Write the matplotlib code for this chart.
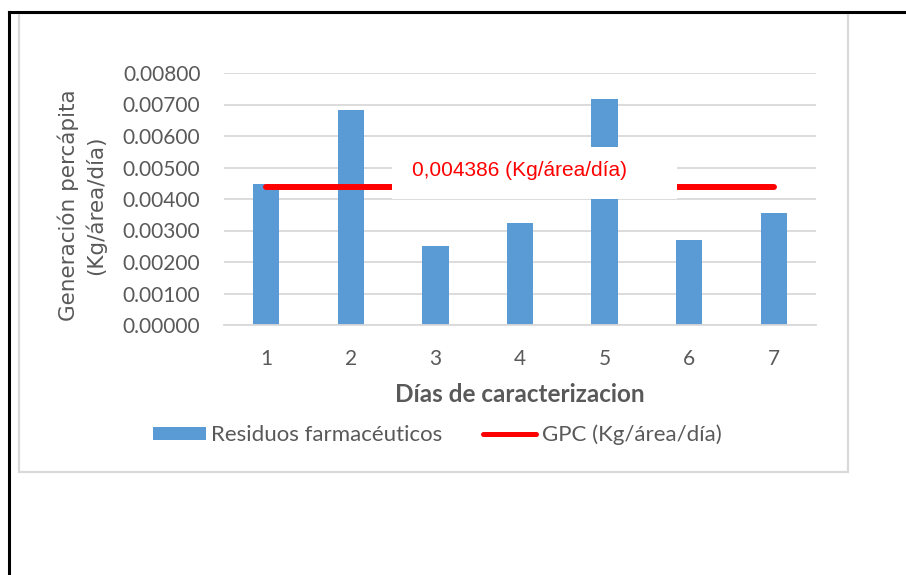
import matplotlib.pyplot as plt
from matplotlib.patches import Rectangle
from matplotlib.lines import Line2D

# Daily pharmaceutical waste generation per area
dias = [1, 2, 3, 4, 5, 6, 7]
residuos = [0.00448, 0.00683, 0.00251, 0.00324, 0.00717, 0.00270, 0.00355]
gpc = 0.004386
yticks = [0.000, 0.001, 0.002, 0.003, 0.004, 0.005, 0.006, 0.007, 0.008]

GRAY = '#595959'
BLUE = '#5b9bd5'
RED = '#ff0000'
GRID = '#d9d9d9'

W, H = 906, 575
fig = plt.figure(figsize=(W / 100, H / 100), dpi=100)

# page frame and chart border
fig.add_artist(Line2D([9 / W, 1], [1 - 12 / H, 1 - 12 / H], color='black', lw=2.2))
fig.add_artist(Line2D([9 / W, 9 / W], [0, 1 - 12 / H], color='black', lw=2.2))
fig.add_artist(Rectangle((19 / W, 1 - 472 / H), (848 - 19) / W, (472 - 13) / H,
                         transform=fig.transFigure, fill=False, ec=GRID, lw=1.6))

ax = fig.add_axes([224 / W, 1 - 325 / H, (816 - 224) / W, (325 - 73) / H])

bars = ax.bar(dias, residuos, width=0.31, color=BLUE, zorder=2, label='Residuos farmacéuticos')
line, = ax.plot(dias, [gpc] * len(dias), color=RED, lw=4.3, solid_capstyle='round', zorder=3,
                label='GPC (Kg/área/día)')

# value label for the GPC line
ax.add_patch(Rectangle((2.487, 0.0040), 5.857 - 2.487, 0.00565 - 0.0040,
                       facecolor='white', edgecolor='none', zorder=4))
ax.text(4, 0.00492, f'{gpc:.6f}'.replace('.', ',') + ' (Kg/área/día)', color=RED,
        fontsize=15, family='Liberation Sans', ha='center', va='center', zorder=5)

ax.set_xlim(0.5, 7.5)
ax.set_ylim(0, 0.008)
ax.set_xticks(dias)
ax.set_yticks(yticks)
ax.set_yticklabels([f'{v:.5f}' for v in yticks])
ax.tick_params(length=0, labelsize=15, labelcolor=GRAY)
ax.tick_params(axis='y', pad=17)
ax.tick_params(axis='x', pad=17)
for lab in ax.get_xticklabels() + ax.get_yticklabels():
    lab.set_family('Lato')

ax.yaxis.grid(True, color=GRID, lw=1.3, zorder=0)
ax.set_axisbelow(True)
for s in ['top', 'right', 'left']:
    ax.spines[s].set_visible(False)
ax.spines['bottom'].set_color(GRID)
ax.spines['bottom'].set_linewidth(1.3)

ax.set_xlabel('Días de caracterizacion', fontsize=17.5, fontweight='bold', color=GRAY,
              family='Lato', va='center')
ax.xaxis.set_label_coords(0.5, -(395 - 325) / 252)
ax.set_ylabel('Generación percápita\n(Kg/área/día)', fontsize=15.5, color=GRAY,
              family='DejaVu Sans', va='center', linespacing=1.35)
ax.yaxis.set_label_coords((82 - 224) / 592, (325 - 205) / 252)

leg = ax.legend([bars, line], [bars.get_label(), line.get_label()],
                loc='center', bbox_to_anchor=(437 / W, 1 - 435 / H),
                bbox_transform=fig.transFigure, ncol=2, frameon=False,
                handlelength=2.4, handleheight=0.55, handletextpad=0.25,
                columnspacing=1.8, prop={'family': 'Lato', 'size': 16})
for t in leg.get_texts():
    t.set_color(GRAY)
leg.get_lines()[0].set_linewidth(3.6)

fig.savefig('out.png', dpi=100)
